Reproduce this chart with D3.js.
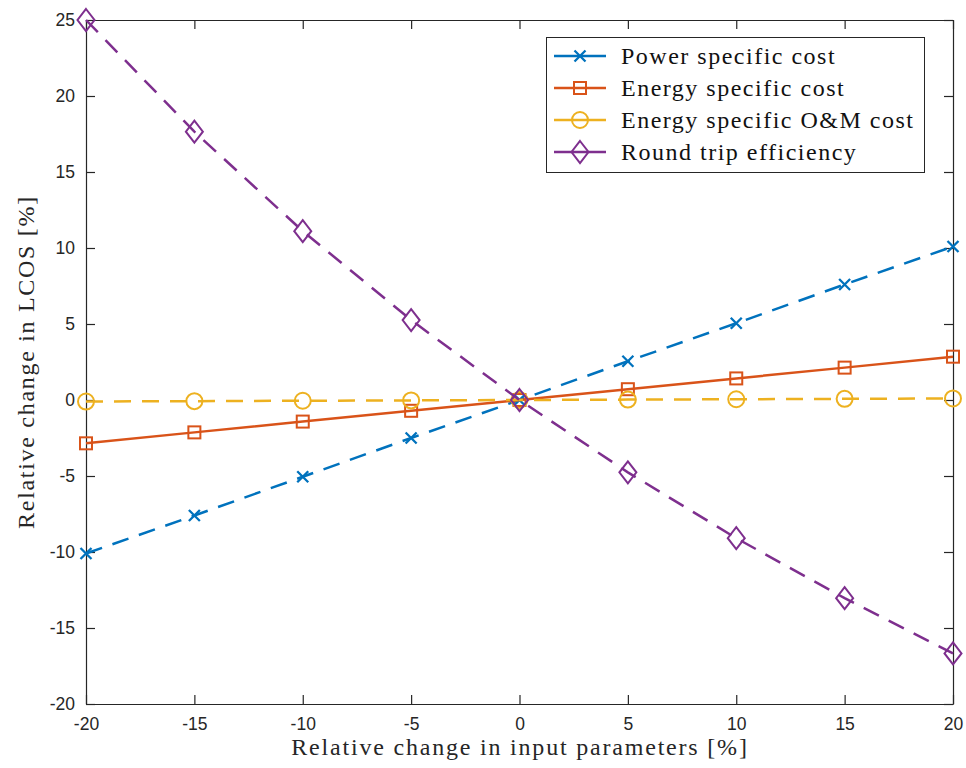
<!DOCTYPE html>
<html>
<head>
<meta charset="utf-8">
<script src="https://cdn.jsdelivr.net/npm/d3@7"></script>
<style>
  body { margin: 0; background: #fff; }
  svg { display: block; }
</style>
</head>
<body>
<svg id="chart" width="966" height="768"></svg>
<script>
// data
const xValues = [-20, -15, -10, -5, 0, 5, 10, 15, 20]
const powerCost = [-10.1, -7.6, -5.05, -2.5, 0, 2.55, 5.05, 7.6, 10.1]
const energyCost = [-2.85, -2.13, -1.42, -0.71, 0, 0.71, 1.42, 2.13, 2.85]
const omCost = [-0.1, -0.075, -0.05, -0.025, 0, 0.025, 0.05, 0.075, 0.1]
const roundTrip = [25, 17.65, 11.11, 5.26, 0, -4.76, -9.09, -13.04, -16.67]
const seriesNames = ['Power specific cost', 'Energy specific cost', 'Energy specific O&M cost', 'Round trip efficiency']
const xTicks = [-20, -15, -10, -5, 0, 5, 10, 15, 20]
const yTicks = [-20, -15, -10, -5, 0, 5, 10, 15, 20, 25]

const series = [
    { name: seriesNames[0], values: powerCost, color: '#0072BD', dash: '17,11', marker: 'x' },
    { name: seriesNames[1], values: energyCost, color: '#D95319', dash: null, marker: 'square' },
    { name: seriesNames[2], values: omCost, color: '#EDB120', dash: '17,11', marker: 'circle' },
    { name: seriesNames[3], values: roundTrip, color: '#7E2F8E', dash: '17,11', marker: 'diamond' }
]

const svg = d3.select('#chart')
const m = { left: 86, right: 953, top: 20, bottom: 704 }

const x = d3.scaleLinear().domain([-20, 20]).range([m.left, m.right])
const y = d3.scaleLinear().domain([-20, 25]).range([m.bottom, m.top])

const tickFont = '"Liberation Sans", Arial, sans-serif'
const labelFont = '"Liberation Serif", "Times New Roman", serif'
const axisColor = '#262626'

// axes with inward ticks
const axBottom = svg.append('g')
    .attr('transform', `translate(0,${m.bottom})`)
    .call(d3.axisBottom(x).tickValues(xTicks).tickSizeInner(-9).tickSizeOuter(0).tickPadding(14))
const axTop = svg.append('g')
    .attr('transform', `translate(0,${m.top})`)
    .call(d3.axisTop(x).tickValues(xTicks).tickSizeInner(-9).tickSizeOuter(0).tickFormat(''))
const axLeft = svg.append('g')
    .attr('transform', `translate(${m.left},0)`)
    .call(d3.axisLeft(y).tickValues(yTicks).tickSizeInner(-9).tickSizeOuter(0).tickPadding(11))
const axRight = svg.append('g')
    .attr('transform', `translate(${m.right},0)`)
    .call(d3.axisRight(y).tickValues(yTicks).tickSizeInner(-9).tickSizeOuter(0).tickFormat(''))

;[axBottom, axTop, axLeft, axRight].forEach(g => {
    g.select('.domain').attr('stroke', axisColor).attr('stroke-width', 1.2)
    g.selectAll('.tick line').attr('stroke', axisColor).attr('stroke-width', 1.2)
    g.selectAll('.tick text')
        .attr('fill', axisColor)
        .style('font-family', tickFont)
        .style('font-size', '17.5px')
})
// MATLAB uses a plain hyphen for negatives
axLeft.selectAll('.tick text').text(d => String(d))
axBottom.selectAll('.tick text').text(d => String(d))

// axis labels (LaTeX font is wider than Times, so spread the letters a bit)
svg.append('text')
    .attr('x', 520)
    .attr('y', 755)
    .attr('text-anchor', 'middle')
    .style('font-family', labelFont)
    .style('font-size', '24px')
    .style('letter-spacing', '1.8px')
    .attr('fill', axisColor)
    .text('Relative change in input parameters [%]')

svg.append('text')
    .attr('transform', 'translate(34,362) rotate(-90)')
    .attr('text-anchor', 'middle')
    .style('font-family', labelFont)
    .style('font-size', '24px')
    .style('letter-spacing', '1.7px')
    .attr('fill', axisColor)
    .text('Relative change in LCOS [%]')

function drawMarker (g, type, cx, cy, color) {
    if (type === 'x') {
        const s = 5.5
        g.append('path')
            .attr('d', `M${cx - s},${cy - s}L${cx + s},${cy + s}M${cx - s},${cy + s}L${cx + s},${cy - s}`)
            .attr('stroke', color).attr('stroke-width', 2.3).attr('fill', 'none')
    } else if (type === 'square') {
        g.append('rect')
            .attr('x', cx - 6).attr('y', cy - 6).attr('width', 12).attr('height', 12)
            .attr('stroke', color).attr('stroke-width', 2).attr('fill', 'none')
    } else if (type === 'circle') {
        g.append('circle')
            .attr('cx', cx).attr('cy', cy).attr('r', 8)
            .attr('stroke', color).attr('stroke-width', 2).attr('fill', 'none')
    } else if (type === 'diamond') {
        g.append('path')
            .attr('d', `M${cx},${cy - 11}L${cx + 8.5},${cy}L${cx},${cy + 11}L${cx - 8.5},${cy}Z`)
            .attr('stroke', color).attr('stroke-width', 2).attr('fill', 'none')
    }
}

const line = d3.line()
    .x((d, i) => x(xValues[i]))
    .y(d => y(d))

const plot = svg.append('g')
series.forEach(s => {
    plot.append('path')
        .datum(s.values)
        .attr('d', line)
        .attr('fill', 'none')
        .attr('stroke', s.color)
        .attr('stroke-width', 2.5)
        .attr('stroke-dasharray', s.dash)
    const mg = plot.append('g')
    s.values.forEach((v, i) => drawMarker(mg, s.marker, x(xValues[i]), y(v), s.color))
})

// legend
const legend = svg.append('g')
legend.append('rect')
    .attr('x', 546.5).attr('y', 37.5).attr('width', 378).attr('height', 135)
    .attr('fill', '#fff').attr('stroke', axisColor).attr('stroke-width', 1)

series.forEach((s, i) => {
    const ly = 56 + i * 32
    legend.append('line')
        .attr('x1', 554).attr('x2', 606).attr('y1', ly).attr('y2', ly)
        .attr('stroke', s.color).attr('stroke-width', 2.5)
    drawMarker(legend, s.marker, 580, ly, s.color)
    legend.append('text')
        .attr('x', 621).attr('y', ly + 8)
        .style('font-family', labelFont)
        .style('font-size', '24px')
        .style('letter-spacing', '1.5px')
        .attr('fill', '#111')
        .text(s.name)
})
</script>
</body>
</html>
